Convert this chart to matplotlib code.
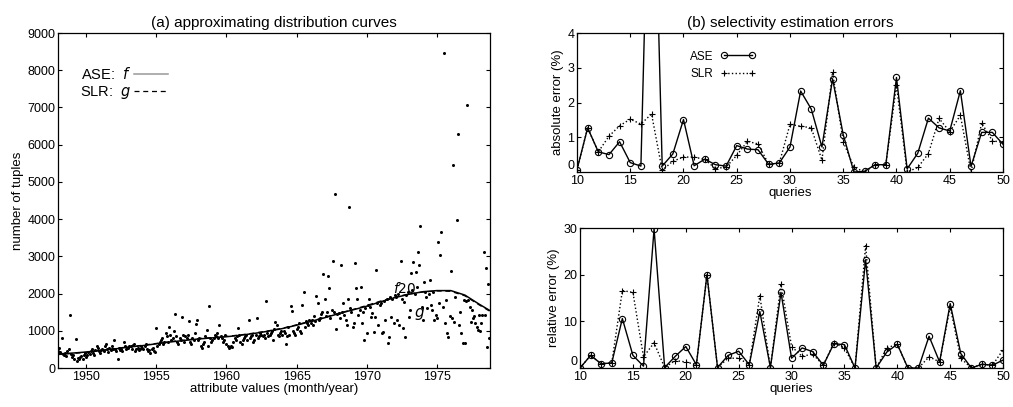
import numpy as np
import matplotlib
matplotlib.use('Agg')
import matplotlib.pyplot as plt

plt.rcParams['font.family'] = ['Liberation Sans', 'DejaVu Sans']

#%% Data: monthly tuple counts, Jan 1948 .. Oct 1978
counts = {
    1948: [450, 550, 420, 800, 380, 350, 400, 330, 450, 500, 1420, 380],
    1949: [300, 350, 250, 780, 200, 280, 230, 300, 320, 250, 350, 400],
    1950: [300, 350, 420, 380, 450, 520, 400, 350, 480, 600, 550, 450],
    1951: [400, 480, 520, 450, 600, 650, 500, 420, 550, 480, 600, 520],
    1952: [750, 500, 450, 250, 550, 480, 520, 450, 700, 600, 500, 550],
    1953: [550, 600, 580, 500, 620, 650, 450, 500, 550, 480, 520, 600],
    1954: [550, 500, 600, 650, 500, 450, 480, 400, 520, 550, 450, 420],
    1955: [1065, 600, 650, 700, 750, 800, 650, 700, 930, 850, 700, 1110],
    1956: [900, 750, 800, 1000, 1450, 850, 700, 650, 800, 750, 1360, 900],
    1957: [700, 850, 800, 900, 1270, 700, 650, 800, 750, 930, 1190, 1290],
    1958: [750, 800, 600, 550, 650, 700, 850, 1020, 600, 1675, 800, 700],
    1959: [750, 800, 900, 850, 950, 800, 1155, 850, 800, 700, 750, 900],
    1960: [650, 600, 550, 560, 600, 555, 700, 800, 750, 850, 1085, 900],
    1961: [700, 650, 750, 800, 850, 900, 750, 1290, 800, 850, 900, 700],
    1962: [750, 900, 1335, 800, 850, 950, 900, 850, 900, 800, 1800, 950],
    1963: [850, 900, 950, 1000, 750, 1050, 1245, 1150, 900, 850, 950, 1000],
    1964: [900, 1000, 950, 645, 850, 1100, 900, 1675, 1540, 1000, 950, 900],
    1965: [1050, 1100, 1200, 1000, 950, 1690, 2035, 1100, 1250, 1200, 1150, 1300],
    1966: [1200, 1300, 1150, 1400, 1250, 1935, 1740, 1300, 1350, 1450, 1500, 2525],
    1967: [1860, 1400, 1500, 2470, 2140, 1350, 1560, 2875, 1500, 4670, 1040, 1450],
    1968: [1470, 1350, 2770, 1500, 1738, 1425, 1300, 1156, 1846, 4320, 1600, 1500],
    1969: [1111, 1200, 2814, 2142, 1846, 1425, 1550, 2169, 1200, 1500, 753, 1600],
    1970: [932, 1700, 1846, 1650, 1380, 1470, 977, 1380, 2634, 1750, 1156, 1700],
    1971: [1738, 932, 977, 1800, 1290, 1850, 663, 843, 1900, 1380, 1850, 1200],
    1972: [1950, 1900, 1290, 2000, 1156, 2885, 1850, 1066, 1783, 843, 1950, 2050],
    1973: [1380, 1560, 2545, 2100, 2858, 2000, 2590, 2169, 3127, 2769, 3826, 1650],
    1974: [1290, 2321, 2050, 1900, 1604, 2000, 2366, 1700, 1560, 2050, 1300, 1425],
    1975: [1336, 3396, 1738, 3038, 3647, 1650, 8460, 1200, 1828, 932, 843, 1400],
    1976: [2617, 1336, 5465, 1246, 1918, 3978, 6280, 1156, 1500, 932, 663, 1828],
    1977: [663, 1800, 7070, 1828, 1650, 1246, 1560, 1336, 1400, 1200, 1111, 1022],
    1978: [1425, 1000, 1200, 1425, 3127, 1425, 2679, 573, 2258, 800],
}

# approximating curves, read at yearly points
curve_years = [1948, 1949, 1950, 1951, 1952, 1953, 1954, 1955, 1956, 1957,
               1958, 1959, 1960, 1961, 1962, 1963, 1964, 1965, 1966, 1967,
               1968, 1969, 1970, 1971, 1972, 1973, 1974, 1975, 1976, 1977,
               1978, 1978.8]
f_curve = [380, 400, 430, 470, 510, 560, 600, 650, 700, 740,
           780, 810, 840, 880, 930, 990, 1060, 1150, 1250, 1350,
           1460, 1560, 1660, 1780, 1890, 1980, 2050, 2080, 2080, 1960,
           1720, 1540]
g_curve = [360, 390, 420, 470, 520, 570, 610, 660, 710, 750,
           790, 820, 850, 890, 940, 1000, 1070, 1160, 1260, 1360,
           1470, 1570, 1680, 1800, 1900, 1990, 2040, 2070, 2060, 1940,
           1700, 1520]

# selectivity estimation errors, queries 10..50
queries = list(range(10, 51))
ase_abs = [0.07, 1.27, 0.58, 0.50, 0.87, 0.27, 0.17, 12.0, 0.17, 0.52,
           1.51, 0.18, 0.37, 0.21, 0.17, 0.76, 0.66, 0.64, 0.22, 0.26,
           0.72, 2.33, 1.81, 0.72, 2.68, 1.07, 0.0, 0.02, 0.21, 0.21,
           2.72, 0.09, 0.54, 1.55, 1.27, 1.18, 2.34, 0.16, 1.14, 1.14,
           0.80]
slr_abs = [0.07, 1.27, 0.58, 1.03, 1.33, 1.52, 1.38, 1.67, 0.05, 0.31,
           0.43, 0.43, 0.36, 0.10, 0.14, 0.48, 0.88, 0.81, 0.22, 0.26,
           1.37, 1.32, 1.27, 0.34, 2.87, 0.87, 0.14, 0.0, 0.21, 0.21,
           2.49, 0.0, 0.13, 0.53, 1.54, 1.16, 1.63, 0.0, 1.41, 0.90,
           0.85]
ase_rel = [0.0, 2.7, 0.9, 1.1, 10.6, 2.7, 0.4, 29.8, 0.1, 2.5,
           4.6, 0.7, 20.0, 0.1, 2.7, 3.6, 0.7, 12.1, 0.1, 16.2,
           2.1, 4.3, 3.5, 0.6, 5.2, 5.0, 0.0, 23.2, 0.0, 3.4,
           5.1, 0.0, 0.0, 6.8, 1.3, 13.8, 3.1, 0.0, 0.8, 0.6,
           1.7]
slr_rel = [0.0, 2.7, 0.9, 1.1, 16.6, 16.2, 2.4, 5.4, 0.1, 1.6,
           1.3, 0.7, 20.0, 0.1, 2.1, 2.1, 0.7, 15.5, 0.1, 18.0,
           4.6, 2.5, 3.0, 0.6, 5.4, 4.3, 0.0, 26.2, 0.0, 4.3,
           5.1, 0.0, 0.0, 2.4, 1.3, 13.1, 2.1, 0.0, 0.8, 0.6,
           3.9]

#%% Plot
fig = plt.figure(figsize=(10.13, 4.07), dpi=100)

def matlab_axes(ax):
    ax.tick_params(direction='in', top=True, right=True, labelsize=9,
                   length=3, width=0.8, pad=2)
    for s in ax.spines.values():
        s.set_linewidth(0.9)

# (a) distribution
ax1 = fig.add_axes([0.0573, 0.0958, 0.4265, 0.823])
xs, ys = [], []
for year, vals in counts.items():
    for m, v in enumerate(vals):
        xs.append(year + m / 12)
        ys.append(v)
ax1.plot(xs, ys, ls='none', marker='o', ms=2.2, color='k', mew=0)
ax1.plot(curve_years, f_curve, color='k', lw=1.1, label='ASE:  $f$')
ax1.plot(curve_years, g_curve, color='k', lw=0.9, ls=(0, (4, 3)),
         label='SLR:  $g$')
ax1.text(1971.9, 2020, '$f20$', fontsize=10)
ax1.text(1973.4, 1380, '$g$', fontsize=11)
ax1.set_xlim(1948, 1978.8)
ax1.set_ylim(0, 9000)
ax1.set_xticks(range(1950, 1980, 5))
ax1.set_yticks(range(0, 9001, 1000))
ax1.set_xlabel('attribute values (month/year)', fontsize=9.5, labelpad=0)
ax1.set_ylabel('number of tuples', fontsize=9.5, labelpad=2)
ax1.set_title('(a) approximating distribution curves', fontsize=11, pad=4)
matlab_axes(ax1)
leg1 = ax1.legend(loc='upper left', bbox_to_anchor=(0.02, 0.94),
                  frameon=False, markerfirst=False, fontsize=10.5,
                  handlelength=2.3, handletextpad=0.2, labelspacing=0.1)
leg1.get_lines()[0].set_color('#999999')

# (b) absolute errors
ax2 = fig.add_axes([0.5696, 0.5774, 0.4205, 0.3415])
ax2.plot(queries, ase_abs, 'k-', marker='o', ms=4.5, mfc='none', mew=0.8,
         lw=1, label='ASE')
ax2.plot(queries, slr_abs, 'k:', marker='+', ms=5, mew=0.8, lw=1,
         label='SLR')
ax2.set_xlim(10, 50)
ax2.set_ylim(0, 4)
ax2.set_xticks(range(10, 51, 5))
ax2.set_yticks(range(0, 5))
ax2.set_xlabel('queries', fontsize=9.5, labelpad=0)
ax2.set_ylabel('absolute error (%)', fontsize=9.5, labelpad=2)
ax2.set_title('(b) selectivity estimation errors', fontsize=11, pad=4)
matlab_axes(ax2)
ax2.legend(loc='upper left', bbox_to_anchor=(0.24, 0.95), frameon=False,
           markerfirst=False, numpoints=2, fontsize=8.5, handlelength=3,
           handletextpad=0.6, labelspacing=0.5)

# (b) relative errors
ax3 = fig.add_axes([0.5726, 0.0958, 0.4176, 0.344])
ax3.plot(queries, ase_rel, 'k-', marker='o', ms=4.5, mfc='none', mew=0.8,
         lw=1)
ax3.plot(queries, slr_rel, 'k:', marker='+', ms=5, mew=0.8, lw=1)
ax3.set_xlim(10, 50)
ax3.set_ylim(0, 30)
ax3.set_xticks(range(10, 51, 5))
ax3.set_yticks([0, 10, 20, 30])
ax3.set_xlabel('queries', fontsize=9.5, labelpad=0)
ax3.set_ylabel('relative error (%)', fontsize=9.5, labelpad=2)
matlab_axes(ax3)

# lift the "0" y tick label so it clears the "10" x tick label
for ax in (ax2, ax3):
    ax.yaxis.get_major_ticks()[0].label1.set_verticalalignment('bottom')

fig.savefig('out.png', dpi=100)
